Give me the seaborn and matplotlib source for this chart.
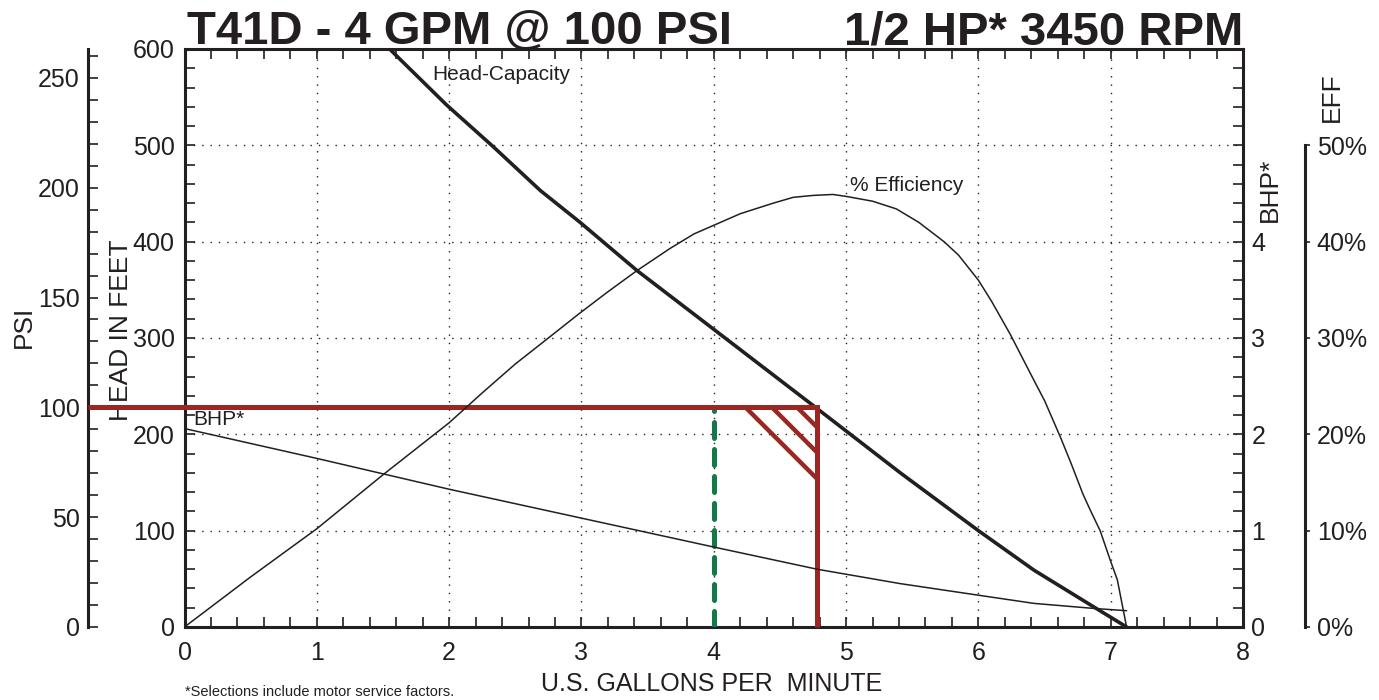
# %%
# Pump curve T41D - head, efficiency and BHP against flow

import seaborn as sns
import matplotlib.pyplot as plt
from matplotlib.ticker import MultipleLocator

# %%
# Values

head_gpm = [1.55, 1.98, 2.33, 2.69, 2.99, 3.42, 4.0, 4.75, 5.41, 6.0, 6.42, 6.87, 7.12]
head_ft = [600, 542, 499, 453, 420, 370, 309, 230, 160, 100, 59, 21, 0]

eff_gpm = [0, 0.25, 0.5, 0.75, 1.0, 1.25, 1.5, 1.75, 2.0, 2.25, 2.5, 2.75, 2.98, 3.2, 3.42,
           3.67, 3.85, 4.0, 4.2, 4.45, 4.6, 4.75, 4.9, 5.0, 5.2, 5.38, 5.55, 5.74, 5.85,
           6.0, 6.1, 6.24, 6.42, 6.5, 6.62, 6.7, 6.79, 6.85, 6.92, 7.0, 7.05, 7.12]
eff_pct = [0, 2.6, 5.2, 7.7, 10.2, 13.0, 15.8, 18.5, 21.2, 24.3, 27.3, 30.0, 32.5, 34.8, 37.0,
           39.3, 40.8, 41.7, 42.9, 44.0, 44.6, 44.8, 44.9, 44.7, 44.2, 43.4, 42.0, 40.0, 38.6,
           36.0, 33.8, 30.4, 25.6, 23.5, 19.7, 17.0, 13.8, 12.0, 10.0, 6.8, 4.9, 0]

bhp_gpm = [0, 1, 2, 3, 4, 4.78, 5.41, 6.0, 6.42, 6.87, 7.12]
bhp_hp = [2.06, 1.75, 1.43, 1.13, 0.83, 0.60, 0.45, 0.33, 0.245, 0.193, 0.169]

# operating point and the hatched corner
design_gpm = 4.0
duty_gpm = 4.78
duty_psi = 100
hatch_gpm = [4.24, 4.44, 4.63]
hatch_psi = [67.5, 79.5, 91.0]

ft_per_psi = 2.28

# %%
sns.set_style('white')
plt.rcParams['font.family'] = ['Liberation Sans', 'DejaVu Sans']

INK = '#231f20'
RED = '#9b2723'
GREEN = '#13794a'
plt.rcParams['text.color'] = INK
plt.rcParams['axes.labelcolor'] = INK
plt.rcParams['xtick.color'] = INK
plt.rcParams['ytick.color'] = INK

fig = plt.figure(figsize=(13.79, 7), dpi=100)
ax_pos = [0.1338, 0.1043, 0.7676, 0.8257]
ax = fig.add_axes(ax_pos)
ax_psi = ax.twinx()
ax_bhp = ax.twinx()
ax_eff = ax.twinx()

# curves
sns.lineplot(x=head_gpm, y=head_ft, ax=ax, color=INK, lw=2.6, estimator=None)
sns.lineplot(x=eff_gpm, y=eff_pct, ax=ax_eff, color=INK, lw=1.1, estimator=None)
sns.lineplot(x=bhp_gpm, y=bhp_hp, ax=ax_bhp, color=INK, lw=1.1, estimator=None)

# main axes: head in feet vs gpm
ax.set_xlim(0, 8)
ax.set_ylim(0, 600)
ax.set_xticks(range(0, 9))
ax.xaxis.set_minor_locator(MultipleLocator(0.2))
ax.set_yticks(range(0, 601, 100))
ax.yaxis.set_minor_locator(MultipleLocator(20))
ax.tick_params(axis='x', which='both', direction='in', top=True, bottom=True, length=7, width=1.2, pad=10)
ax.tick_params(axis='y', which='both', direction='in', left=True, right=False, length=7, width=1.2, pad=7)
ax.tick_params(labelsize=18)
ax.grid(True, which='major', color=INK, linestyle=(0, (1, 5)), linewidth=1)
ax.set_axisbelow(True)
for s in ax.spines.values():
    s.set_linewidth(2.2)
    s.set_color(INK)
ax.set_xlabel('U.S. GALLONS PER  MINUTE', fontsize=18)
ax.xaxis.set_label_coords(0.498, -0.078)
ax.set_ylabel('HEAD IN FEET', fontsize=19)
ax.yaxis.set_label_coords(-0.0486, 0.514)
ax.text(1.87, 574, 'Head-Capacity', fontsize=15, va='center')

# PSI axis, left and outward
psi_offset_px = 96.5
ax_psi.set_ylim(0, 600 / ft_per_psi)
ax_psi.yaxis.tick_left()
ax_psi.yaxis.set_label_position('left')
ax_psi.set_yticks(range(0, 251, 50))
ax_psi.yaxis.set_minor_locator(MultipleLocator(10))
ax_psi.tick_params(axis='y', which='both', direction='in', left=True, right=False,
                   length=7, width=1.2, pad=6, labelsize=18)
for k in ['right', 'top', 'bottom']:
    ax_psi.spines[k].set_visible(False)
ax_psi.spines['left'].set_position(('outward', psi_offset_px * 72 / 100))
ax_psi.spines['left'].set_linewidth(2.2)
ax_psi.spines['left'].set_color(INK)
ax_psi.set_ylabel('PSI', fontsize=19)
ax_psi.yaxis.set_label_coords(-0.14, 0.519)

# BHP axis on the right spine
ax_bhp.set_ylim(0, 6)
ax_bhp.set_yticks(range(0, 5))
ax_bhp.yaxis.set_minor_locator(MultipleLocator(0.2))
ax_bhp.tick_params(axis='y', which='both', direction='in', length=7, width=1.2, pad=6, labelsize=18)
for k in ['left', 'top', 'bottom', 'right']:
    ax_bhp.spines[k].set_visible(False)
ax_bhp.set_ylabel('BHP*', fontsize=19, rotation=90)
ax_bhp.yaxis.set_label_coords(1.0141, 0.756)
ax_bhp.text(0.065, 2.15, 'BHP*', fontsize=15, va='center')

# efficiency axis, right and outward
ax_eff.set_ylim(0, 60)
ax_eff.set_yticks(range(0, 51, 10))
ax_eff.set_yticklabels([f'{v}%' for v in range(0, 51, 10)])
ax_eff.tick_params(axis='y', which='both', direction='out', length=3.5, width=1.2, pad=5, labelsize=18)
for k in ['left', 'top', 'bottom']:
    ax_eff.spines[k].set_visible(False)
ax_eff.spines['right'].set_position(('outward', 62 * 72 / 100))
ax_eff.spines['right'].set_bounds(0, 50)
ax_eff.spines['right'].set_linewidth(2.2)
ax_eff.spines['right'].set_color(INK)
ax_eff.set_ylabel('EFF', fontsize=19, rotation=90)
ax_eff.yaxis.set_label_coords(1.0728, 0.917)
ax_eff.text(5.03, 45.8, '% Efficiency', fontsize=15, va='center')

# operating point lines (drawn on the psi scale)
ax_psi.plot([design_gpm, design_gpm], [0, duty_psi - 1], color=GREEN, lw=3.6,
            dashes=(3.2, 2.2), dash_capstyle='round', zorder=3)
ax_w_px = ax_pos[2] * fig.get_figwidth() * fig.dpi
x_left = -psi_offset_px / ax_w_px * 8
ax_psi.plot([x_left, duty_gpm, duty_gpm], [duty_psi, duty_psi, 0], color=RED, lw=3.6,
            solid_joinstyle='miter', solid_capstyle='butt', clip_on=False, zorder=4)
for g, p in zip(hatch_gpm, hatch_psi):
    ax_psi.plot([g, duty_gpm], [duty_psi, p], color=RED, lw=3.2, solid_capstyle='butt', zorder=4)
ax.set_xlim(0, 8)

# titles and footnote
fig.text(0.1356, 0.937, 'T41D - 4 GPM @ 100 PSI', fontsize=34, fontweight='bold', ha='left', va='baseline')
fig.text(0.9014, 0.937, '1/2 HP* 3450 RPM', fontsize=34, fontweight='bold', ha='right', va='baseline')
fig.text(0.1341, 0.0114, '*Selections include motor service factors.', fontsize=10.5, va='center')

plt.savefig('out.png', dpi=100, facecolor='white')
